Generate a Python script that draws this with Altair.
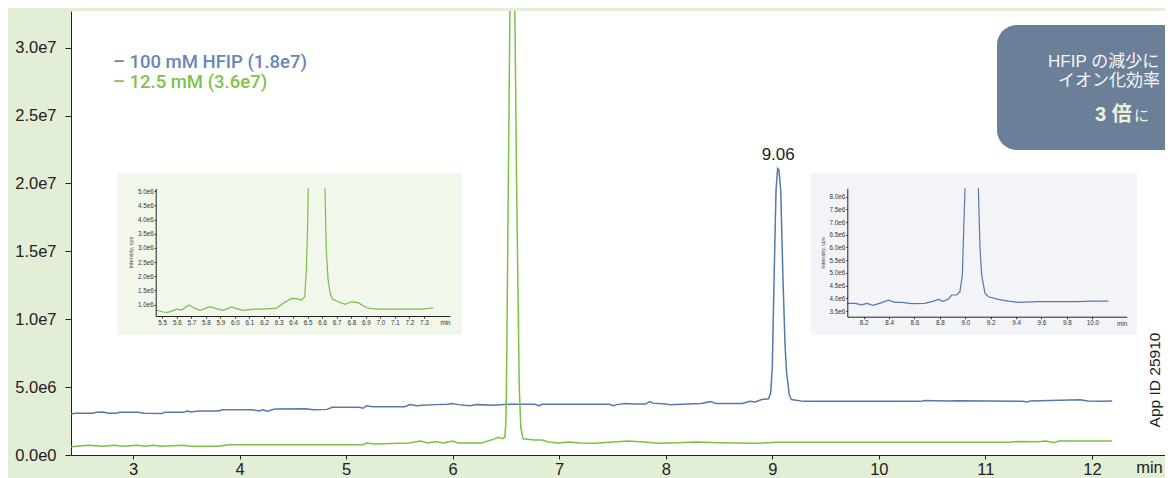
import altair as alt
import pandas as pd

W, H = 1094, 444

# ---------------- data ----------------
series_names = ["100 mM HFIP", "12.5 mM"]
series_colors = ["#5878a9", "#7bc143"]
legend_lines = ["– 100 mM HFIP (1.8e7)", "– 12.5 mM (3.6e7)"]
legend_colors = ["#6787b5", "#7fc24a"]

# main traces: retention time (min) and intensity (1e6 cps)
blue_t = [2.42, 2.46, 2.62, 2.66, 2.72, 2.77, 2.84, 2.88, 3.05, 3.1, 3.27, 3.3, 3.47, 3.51, 3.54,
          3.62, 3.8, 3.84, 4.12, 4.18, 4.22, 4.26, 4.33, 4.62, 4.69, 4.82, 4.87, 5.12, 5.16, 5.19,
          5.25, 5.55, 5.6, 5.66, 5.72, 5.84, 5.95, 6.0, 6.05, 6.16, 6.23, 6.38, 6.52, 6.77, 6.81,
          6.84, 7.2, 7.47, 7.51, 7.54, 7.62, 7.69, 7.81, 7.85, 7.88, 8.0, 8.04, 8.33, 8.42, 8.47,
          8.72, 8.79, 8.84, 8.9, 8.965, 8.985, 9.0, 9.018, 9.035, 9.05, 9.062, 9.079, 9.1, 9.12,
          9.135, 9.16, 9.18, 9.29, 10.39, 10.43, 10.64, 10.75, 11.35, 11.39, 11.42, 11.89, 11.96,
          12.1, 12.19]
blue_v = [3.02, 3.07, 3.08, 3.15, 3.16, 3.07, 3.08, 3.14, 3.14, 3.07, 3.05, 3.14, 3.14, 3.24, 3.17,
          3.24, 3.24, 3.33, 3.33, 3.24, 3.33, 3.23, 3.38, 3.41, 3.33, 3.36, 3.51, 3.51, 3.44, 3.63,
          3.56, 3.56, 3.71, 3.63, 3.66, 3.71, 3.74, 3.8, 3.71, 3.63, 3.71, 3.66, 3.73, 3.73, 3.63,
          3.73, 3.74, 3.74, 3.63, 3.71, 3.79, 3.75, 3.75, 3.93, 3.82, 3.76, 3.71, 3.8, 3.93, 3.8,
          3.8, 3.95, 3.9, 4.09, 4.14, 4.6, 6.5, 13.5, 19.5, 21.1, 21.0, 19.5, 13.0, 8.0,
          6.0, 4.4, 4.09, 3.95, 3.95, 4.02, 3.97, 4.0, 3.95, 3.9, 3.97, 4.07, 3.97,
          3.95, 3.98]

green_t = [2.42, 2.58, 2.72, 2.83, 2.9, 3.04, 3.11, 3.19, 3.26, 3.47, 3.54, 3.8, 3.9, 5.16, 5.19,
           5.27, 5.59, 5.7, 5.77, 5.84, 5.91, 6.0, 6.05, 6.27, 6.38, 6.43, 6.47, 6.49, 6.5, 6.505,
           6.52, 6.537, 6.56, 6.584, 6.6, 6.625, 6.64, 6.66, 6.77, 6.84, 6.9, 6.99, 7.09, 7.2, 7.33,
           7.47, 7.65, 7.83, 7.94, 8.11, 8.29, 8.51, 8.83, 9.04, 11.21, 11.32, 11.49, 11.57, 11.64,
           11.69, 12.19]
green_v = [0.61, 0.71, 0.64, 0.71, 0.64, 0.71, 0.64, 0.71, 0.64, 0.71, 0.64, 0.64, 0.76, 0.76, 0.88,
           0.81, 0.88, 1.03, 0.88, 1.0, 0.88, 1.03, 0.88, 0.88, 1.15, 1.3, 1.2, 1.3, 2.5, 5.0,
           18.0, 32.5, 36.0, 32.5, 20.0, 5.0, 2.0, 1.2, 1.1, 1.1, 0.96, 0.88, 0.96, 0.88, 0.86,
           0.93, 1.03, 0.93, 0.86, 0.91, 0.96, 0.91, 0.86, 0.93, 0.93, 1.0, 0.98, 1.03, 0.91,
           1.03, 1.03]

x_ticks = [3, 4, 5, 6, 7, 8, 9, 10, 11, 12]
y_ticks = [0, 5e6, 1e7, 1.5e7, 2e7, 2.5e7, 3e7]

peak_label = "9.06"
peak_t = 9.055
peak_v = 21.1e6

# inset 1 (12.5 mM, zoom on 5.5-7.3 min); the peak runs off the top, leaving two pieces
ins1_t_a = [5.454, 5.507, 5.54, 5.6, 5.633, 5.683, 5.713, 5.76, 5.83, 5.87, 5.92, 5.977, 6.01,
            6.057, 6.126, 6.195, 6.286, 6.332, 6.39, 6.424, 6.458, 6.48, 6.491, 6.5, 6.504]
ins1_v_a = [0.81, 0.74, 0.73, 0.84, 0.81, 0.99, 0.9, 0.8, 0.93, 0.86, 0.8, 0.92, 0.86,
            0.8, 0.84, 0.84, 0.88, 1.05, 1.22, 1.21, 1.16, 1.28, 2.2, 3.8, 5.1]
ins1_t_b = [6.619, 6.628, 6.64, 6.655, 6.67, 6.7, 6.756, 6.802, 6.848, 6.905, 6.974, 7.09, 7.2,
            7.295, 7.364]
ins1_v_b = [5.1, 2.95, 1.9, 1.4, 1.2, 1.13, 1.01, 1.1, 1.07, 0.89, 0.84, 0.84, 0.84,
            0.84, 0.89]
ins1_x_ticks = [5.5, 5.6, 5.7, 5.8, 5.9, 6.0, 6.1, 6.2, 6.3, 6.4, 6.5, 6.6, 6.7, 6.8, 6.9,
                7.0, 7.1, 7.2, 7.3]
ins1_y_ticks = [1.0e6, 1.5e6, 2.0e6, 2.5e6, 3.0e6, 3.5e6, 4.0e6, 4.5e6, 5.0e6]

# inset 2 (100 mM, zoom on 8.1-10.2 min)
ins2_t_a = [8.071, 8.132, 8.184, 8.224, 8.276, 8.342, 8.394, 8.447, 8.5, 8.578, 8.683, 8.749,
            8.788, 8.827, 8.867, 8.893, 8.932, 8.958, 8.977, 8.987, 8.998]
ins2_v_a = [3.80, 3.80, 3.74, 3.80, 3.72, 3.83, 3.93, 3.84, 3.84, 3.79, 3.80, 3.89,
            3.96, 3.88, 3.97, 4.13, 4.13, 4.26, 4.92, 6.6, 8.33]
ins2_t_b = [9.103, 9.116, 9.129, 9.155, 9.182, 9.26, 9.339, 9.418, 9.575, 9.733, 9.89, 9.995,
            10.127]
ins2_v_b = [8.33, 5.97, 4.92, 4.2, 4.06, 3.96, 3.89, 3.84, 3.87, 3.87, 3.87, 3.89, 3.89]
ins2_x_ticks = [8.2, 8.4, 8.6, 8.8, 9.0, 9.2, 9.4, 9.6, 9.8, 10.0]
ins2_y_ticks = [3.5e6, 4.0e6, 4.5e6, 5.0e6, 5.5e6, 6.0e6, 6.5e6, 7.0e6, 7.5e6, 8.0e6]

note_lines = ["HFIP の減少に", "イオン化効率"]
note_big = "3 倍"
note_small = "に"
app_id = "App ID 25910"

# ---------------- tables ----------------
main_df = pd.DataFrame({
    "t": blue_t + green_t,
    "v": [v * 1e6 for v in blue_v] + [v * 1e6 for v in green_v],
    "series": [series_names[0]] * len(blue_t) + [series_names[1]] * len(green_t),
})
ins1_df = pd.DataFrame({
    "t": ins1_t_a + ins1_t_b,
    "v": [v * 1e6 for v in ins1_v_a] + [v * 1e6 for v in ins1_v_b],
    "seg": ["a"] * len(ins1_t_a) + ["b"] * len(ins1_t_b),
})
ins2_df = pd.DataFrame({
    "t": ins2_t_a + ins2_t_b,
    "v": [v * 1e6 for v in ins2_v_a] + [v * 1e6 for v in ins2_v_b],
    "seg": ["a"] * len(ins2_t_a) + ["b"] * len(ins2_t_b),
})
peak_df = pd.DataFrame({"t": [peak_t], "v": [peak_v], "label": [peak_label]})
one = pd.DataFrame({"k": [0]})

SANS = "Liberation Sans"
EXP = "replace(format(datum.value, '.1e'), 'e+', 'e')"


def box(x, x2, y, y2, fill, r=0):
    return alt.Chart(one).mark_rect(fill=fill, cornerRadius=r).encode(
        x=alt.value(x), x2=alt.value(x2), y=alt.value(y), y2=alt.value(y2))


def label(text, x, y, size, color, font=SANS, weight="normal", align="left", angle=0):
    return alt.Chart(one).mark_text(
        text=text, fontSize=size, color=color, font=font, fontWeight=weight,
        align=align, baseline="middle", angle=angle).encode(x=alt.value(x), y=alt.value(y))


main_xs = alt.Scale(domain=[2.418, 2.418 + W / 106.55], nice=False, zero=False)
main_ys = alt.Scale(domain=[0, 3.27e7], nice=False)

lines = alt.Chart(main_df).mark_line(strokeWidth=1.5, clip=True).encode(
    x=alt.X("t:Q", scale=main_xs, axis=alt.Axis(
        orient="bottom", values=x_ticks, format="d", title="min", titleX=1078, titleY=12,
        titleAlign="center", titleBaseline="middle", titleFontWeight="normal",
        titleFontSize=16.5, titleColor="#222", labelFontSize=16.5, labelColor="#222",
        tickSize=4, labelPadding=2, domainColor="#222", tickColor="#222")),
    y=alt.Y("v:Q", scale=main_ys, axis=alt.Axis(
        orient="left", values=y_ticks, labelExpr=EXP, title=None, labelFontSize=16.5,
        labelColor="#222", tickSize=6, labelPadding=9, domainColor="#222", tickColor="#222")),
    color=alt.Color("series:N", scale=alt.Scale(domain=series_names, range=series_colors),
                    legend=None),
)

peak = alt.Chart(peak_df).mark_text(dy=-14, fontSize=17, font=SANS, color="#222").encode(
    x=alt.X("t:Q", scale=main_xs, axis=None),
    y=alt.Y("v:Q", scale=main_ys, axis=None),
    text="label:N",
)


def inset(df, color, xdom, xrng, ydom, yrng, xticks, yticks, xoff, yoff, min_x):
    small = dict(labelFontSize=6.3, labelColor="#333", domainColor="#222", tickColor="#222",
                 labelFont=SANS, zindex=2)
    return alt.Chart(df).mark_line(strokeWidth=1.2, color=color).encode(
        x=alt.X("t:Q", scale=alt.Scale(domain=xdom, range=xrng, nice=False, zero=False),
                axis=alt.Axis(orient="bottom", offset=xoff, values=xticks, format=".1f",
                              title="min", titleX=min_x, titleY=6.7, titleAlign="center",
                              titleBaseline="middle", titleFontSize=6.3,
                              titleFontWeight="normal", titleColor="#333", tickSize=2,
                              labelPadding=1, **small)),
        y=alt.Y("v:Q", scale=alt.Scale(domain=ydom, range=yrng, nice=False, zero=False),
                axis=alt.Axis(orient="left", offset=yoff, values=yticks, labelExpr=EXP,
                              title="Intensity, cps", titleFontSize=5.5,
                              titleFontWeight="normal", titleColor="#444", titlePadding=4,
                              tickSize=1.5, labelPadding=1, **small)),
        detail="seg:N",
    )


ins1 = inset(ins1_df, "#78c043", [5.455, 7.479], [84.7, 379], [0.6e6, 5.1e6], [305, 177.3],
             ins1_x_ticks, ins1_y_ticks, -139, -84.7, 374)
ins2 = inset(ins2_df, "#5878a8", [8.071, 10.271], [776.3, 1055.7], [3.276e6, 8.33e6],
             [305.7, 177.3], ins2_x_ticks, ins2_y_ticks, -138.3, -776.3, 1050.7)

JP = "Liberation Sans, Noto Sans CJK JP"
layers = [
    box(46, 391, 162, 324, "#f2f7ec"),
    box(740, 1066, 162, 324, "#f3f4f7"),
    box(926, 1160, 14, 139, "#6c7f98", 20),
    lines, peak, ins1, ins2,
    label(legend_lines[0], 42, 50.5, 18.5, legend_colors[0], font="Roboto", weight=500),
    label(legend_lines[1], 42, 71, 18.5, legend_colors[1], font="Roboto", weight=500),
    label(note_lines[0], 977, 50.7, 17, "#f5f6f7", font=JP),
    label(note_lines[1], 987, 69.7, 17, "#f5f6f7", font=JP),
    label(note_big, 1024, 104, 20, "#eef1dc", font=JP, weight="bold"),
    label(note_small, 1063, 105, 15, "#eef1dc", font=JP),
    label(app_id, 1084, 369, 15.5, "#222", angle=270, align="center"),
]

chart = alt.layer(*layers).resolve_scale(
    x="independent", y="independent"
).resolve_axis(
    x="independent", y="independent"
).properties(
    width=W, height=H,
    padding={"left": 63, "top": 3, "right": 0, "bottom": 23},
    autosize=alt.AutoSizeParams(type="none"),
    background="#e2eed5",
).configure_view(
    fill="white", stroke=None
).configure_axis(
    grid=False, labelFont=SANS, titleFont=SANS
)

chart.save("out.html", embed_options={"renderer": "svg", "actions": False})
